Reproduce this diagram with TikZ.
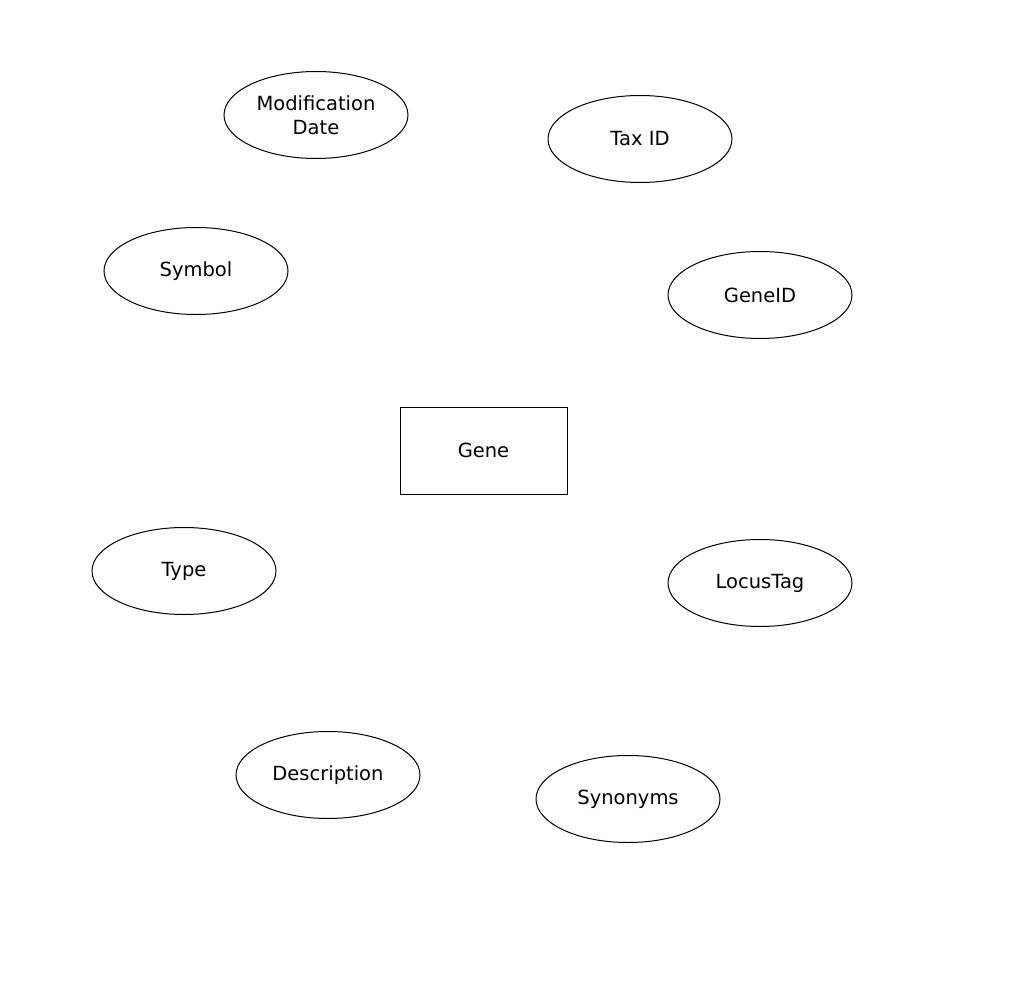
\documentclass[tikz,border=0pt]{standalone}
\usepackage{fontspec}
\setmainfont{DejaVu Sans}
\usetikzlibrary{shapes.geometric}

\tikzset{
  attr/.style={draw, ellipse, line width=1pt, minimum width=184pt, minimum height=87pt,
    inner sep=0pt, align=center, font=\fontsize{19.5pt}{24pt}\selectfont},
  entity/.style={draw, rectangle, line width=1pt, minimum width=167pt, minimum height=87pt,
    inner sep=0pt, font=\fontsize{19.5pt}{24pt}\selectfont}
}

\begin{document}
\begin{tikzpicture}[x=1pt,y=-1pt]
  \useasboundingbox (0,0) rectangle (1034,993);

  \node[entity] (gene) at (483.5,450.5) {Gene};

  \node[attr] (moddate) at (316,115) {Modification\\Date};
  \node[attr] (taxid) at (640,139) {Tax ID};
  \node[attr] (symbol) at (196,271) {Symbol};
  \node[attr] (geneid) at (760,295) {GeneID};
  \node[attr] (type) at (184,571) {Type};
  \node[attr] (locustag) at (760,583) {LocusTag};
  \node[attr] (descr) at (328,775) {Description};
  \node[attr] (synonyms) at (628,799) {Synonyms};
\end{tikzpicture}
\end{document}
